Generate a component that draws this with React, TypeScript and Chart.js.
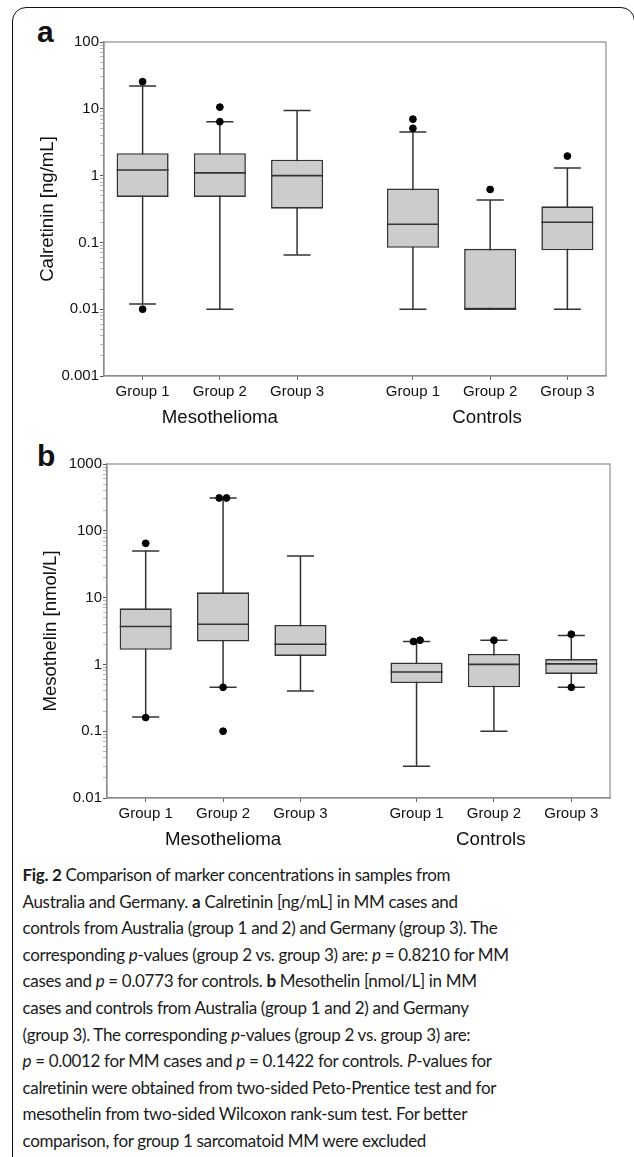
import React, { useEffect, useRef } from 'react';
import { Chart, registerables } from 'chart.js';

Chart.register(...registerables);

// ---------- data ----------
const groupLabels = ['Group 1', 'Group 2', 'Group 3', 'Group 1', 'Group 2', 'Group 3'];
const sectionLabels = ['Mesothelioma', 'Controls'];

// Panel a: Calretinin [ng/mL]
const calMin = [0.012, 0.01, 0.065, 0.01, 0.01, 0.01];
const calQ1 = [0.48, 0.48, 0.32, 0.083, 0.01, 0.076];
const calMedian = [1.21, 1.1, 1.0, 0.187, 0.01, 0.2];
const calQ3 = [2.16, 2.16, 1.73, 0.64, 0.08, 0.347];
const calMax = [21.9, 6.4, 9.4, 4.5, 0.43, 1.3];
const calOutliers = [[25.5, 0.01], [10.6, 6.4], [], [7.0, 5.1], [0.62], [1.96]];
const calJitter = [[0, 0], [0, 0], [], [0, 0], [0], [0]];
const calTickLabels = ['0.001', '0.01', '0.1', '1', '10', '100'];

// Panel b: Mesothelin [nmol/L]
const mesMin = [0.163, 0.454, 0.4, 0.03, 0.1, 0.454];
const mesQ1 = [1.65, 2.2, 1.34, 0.526, 0.454, 0.72];
const mesMedian = [3.7, 4.0, 2.0, 0.77, 1.0, 1.02];
const mesQ3 = [6.9, 12, 3.9, 1.07, 1.43, 1.2];
const mesMax = [50, 310, 41.8, 2.2, 2.3, 2.7];
const mesOutliers = [[65, 0.16], [310, 310, 0.454, 0.1], [], [2.2, 2.3], [2.3], [2.83, 0.454]];
const mesJitter = [[0, 0], [-0.05, 0.045, 0, 0], [], [-0.04, 0.045], [0], [0, 0]];
const mesTickLabels = ['0.01', '0.1', '1', '10', '100', '1000'];

// ---------- helpers ----------
const BOX_HALF = 0.337;
const CAP_HALF = 0.175;
const FONT = "'Liberation Sans', Arial, sans-serif";

function slotX(i: number) {
  return i + 1 + (i >= 3 ? 0.5 : 0);
}

interface PanelSpec {
  min: number[];
  q1: number[];
  med: number[];
  q3: number[];
  max: number[];
  outliers: number[][];
  jitter: number[][];
  tickLabels: string[];
  title: string;
  yWidth: number;
  titlePad: number;
  padRight: number;
  x1Height: number;
  x2Height: number;
}

const framePlugin = {
  id: 'frame',
  beforeDatasetsDraw(chart: any) {
    const { ctx, chartArea } = chart;
    ctx.save();
    ctx.strokeStyle = '#8c8c8c';
    ctx.lineWidth = 1.2;
    ctx.strokeRect(chartArea.left, chartArea.top, chartArea.right - chartArea.left, chartArea.bottom - chartArea.top);
    ctx.restore();
  },
};

function buildConfig(p: PanelSpec): any {
  const n = p.q1.length;
  const boxes: any[] = [];
  const whiskers: any[] = [];
  const caps: any[] = [];
  const medians: any[] = [];
  const points: any[] = [];
  for (let i = 0; i < n; i++) {
    const x = slotX(i);
    boxes.push({ x, y: [p.q1[i], p.q3[i]] });
    whiskers.push({ x, y: p.min[i] }, { x, y: p.max[i] }, { x, y: null });
    caps.push({ x: x - CAP_HALF, y: p.min[i] }, { x: x + CAP_HALF, y: p.min[i] }, { x, y: null });
    caps.push({ x: x - CAP_HALF, y: p.max[i] }, { x: x + CAP_HALF, y: p.max[i] }, { x, y: null });
    medians.push({ x: x - BOX_HALF, y: p.med[i] }, { x: x + BOX_HALF, y: p.med[i] }, { x, y: null });
    p.outliers[i].forEach((v, k) => points.push({ x: x + (p.jitter[i][k] || 0), y: v }));
  }
  const decades = p.tickLabels.map((t) => parseFloat(t));
  const yMin = decades[0];
  const yMax = decades[decades.length - 1];
  const slots = groupLabels.map((_, i) => slotX(i));
  const sectionCenters = [slotX(1), slotX(4) - 0.04];

  return {
    type: 'scatter',
    data: {
      datasets: [
        {
          type: 'scatter',
          data: points,
          backgroundColor: '#000',
          borderColor: '#000',
          pointRadius: 3.4,
          pointHoverRadius: 3.4,
          order: 0,
        },
        {
          type: 'line',
          data: medians,
          borderColor: '#333',
          borderWidth: 1.6,
          pointRadius: 0,
          spanGaps: false,
          order: 1,
        },
        {
          type: 'line',
          data: caps,
          borderColor: '#333',
          borderWidth: 1.5,
          pointRadius: 0,
          spanGaps: false,
          order: 1,
        },
        {
          type: 'bar',
          data: boxes,
          backgroundColor: '#cccccc',
          borderColor: '#333',
          borderWidth: 1.6,
          borderSkipped: false,
          categoryPercentage: 1,
          barPercentage: 0.674,
          order: 2,
        },
        {
          type: 'line',
          data: whiskers,
          borderColor: '#333',
          borderWidth: 1.5,
          pointRadius: 0,
          spanGaps: false,
          order: 3,
        },
      ],
    },
    options: {
      responsive: false,
      animation: false,
      events: [],
      layout: { padding: { top: 12, right: p.padRight, left: 0, bottom: 0 } },
      plugins: { legend: { display: false }, tooltip: { enabled: false } },
      scales: {
        x: {
          type: 'linear',
          position: 'bottom',
          min: 0.5,
          max: 7,
          bounds: 'data',
          offset: false,
          afterBuildTicks: (scale: any) => {
            scale.ticks = slots.map((v) => ({ value: v }));
          },
          afterFit: (scale: any) => {
            scale.height = p.x1Height;
          },
          grid: { display: true, drawOnChartArea: false, drawTicks: true, tickLength: 4, color: '#666', offset: false },
          border: { display: true, color: '#8c8c8c', width: 1.2 },
          ticks: {
            autoSkip: false,
            maxRotation: 0,
            padding: 3,
            color: '#111',
            font: { family: FONT, size: 15 },
            callback: (_v: any, idx: number) => groupLabels[idx],
          },
        },
        x2: {
          type: 'linear',
          position: 'bottom',
          min: 0.5,
          max: 7,
          bounds: 'data',
          offset: false,
          afterBuildTicks: (scale: any) => {
            scale.ticks = sectionCenters.map((v) => ({ value: v }));
          },
          afterFit: (scale: any) => {
            scale.height = p.x2Height;
          },
          grid: { display: false, drawTicks: false },
          border: { display: false },
          ticks: {
            autoSkip: false,
            maxRotation: 0,
            padding: 3,
            color: '#111',
            font: { family: FONT, size: 18.7 },
            callback: (_v: any, idx: number) => sectionLabels[idx],
          },
        },
        y: {
          type: 'logarithmic',
          position: 'left',
          min: yMin,
          max: yMax,
          afterBuildTicks: (scale: any) => {
            const t: any[] = [];
            for (let d = 0; d < decades.length; d++) {
              const base = decades[d];
              t.push({ value: base, major: true, label: p.tickLabels[d] });
              if (d < decades.length - 1) {
                for (let m = 2; m <= 9; m++) t.push({ value: base * m, major: false });
              }
            }
            scale.ticks = t;
          },
          afterFit: (scale: any) => {
            scale.width = p.yWidth;
          },
          grid: {
            display: true,
            drawOnChartArea: false,
            drawTicks: true,
            tickLength: 4,
            color: (ctx: any) => (ctx.tick && ctx.tick.major ? '#555' : '#b5b5b5'),
          },
          border: { display: true, color: '#8c8c8c', width: 1.2 },
          ticks: {
            autoSkip: false,
            padding: 1,
            color: '#111',
            font: { family: FONT, size: 15 },
            callback: (_v: any, idx: number, ticks: any[]) => (ticks[idx] && ticks[idx].label) || '',
          },
          title: {
            display: true,
            text: p.title,
            color: '#111',
            font: { family: FONT, size: 18.6 },
            padding: { top: p.titlePad, bottom: 0 },
          },
        },
      },
    },
    plugins: [framePlugin],
  };
}

function BoxChart(props: { spec: PanelSpec; width: number; height: number; left: number; top: number }) {
  const ref = useRef<HTMLCanvasElement | null>(null);
  useEffect(() => {
    if (!ref.current) return;
    const chart = new Chart(ref.current, buildConfig(props.spec));
    return () => chart.destroy();
  }, []);
  return (
    <canvas
      ref={ref}
      width={props.width}
      height={props.height}
      style={{ position: 'absolute', left: props.left, top: props.top, width: props.width, height: props.height }}
    />
  );
}

const specA: PanelSpec = {
  min: calMin,
  q1: calQ1,
  med: calMedian,
  q3: calQ3,
  max: calMax,
  outliers: calOutliers,
  jitter: calJitter,
  tickLabels: calTickLabels,
  title: 'Calretinin [ng/mL]',
  yWidth: 90,
  titlePad: 23,
  padRight: 16,
  x1Height: 28,
  x2Height: 31,
};

const specB: PanelSpec = {
  min: mesMin,
  q1: mesQ1,
  med: mesMedian,
  q3: mesQ3,
  max: mesMax,
  outliers: mesOutliers,
  jitter: mesJitter,
  tickLabels: mesTickLabels,
  title: 'Mesothelin [nmol/L]',
  yWidth: 93,
  titlePad: 26,
  padRight: 14,
  x1Height: 28,
  x2Height: 31,
};

const B = (s: string) => <b>{s}</b>;
const I = (s: string) => <i>{s}</i>;

const captionLines: React.ReactNode[][] = [
  [B('Fig. 2'), ' Comparison of marker concentrations in samples from'],
  ['Australia and Germany. ', B('a'), ' Calretinin [ng/mL] in MM cases and'],
  ['controls from Australia (group 1 and 2) and Germany (group 3). The'],
  ['corresponding ', I('p'), '-values (group 2 vs. group 3) are: ', I('p'), ' = 0.8210 for MM'],
  ['cases and ', I('p'), ' = 0.0773 for controls. ', B('b'), ' Mesothelin [nmol/L] in MM'],
  ['cases and controls from Australia (group 1 and 2) and Germany'],
  ['(group 3). The corresponding ', I('p'), '-values (group 2 vs. group 3) are:'],
  [I('p'), ' = 0.0012 for MM cases and ', I('p'), ' = 0.1422 for controls. ', I('P'), '-values for'],
  ['calretinin were obtained from two-sided Peto-Prentice test and for'],
  ['mesothelin from two-sided Wilcoxon rank-sum test. For better'],
  ['comparison, for group 1 sarcomatoid MM were excluded'],
];

export default function App() {
  return (
    <div
      style={{
        position: 'absolute',
        left: 0,
        top: 0,
        width: 634,
        height: 1157,
        overflow: 'hidden',
        background: '#fff',
      }}
    >
      <div
        style={{
          position: 'absolute',
          left: 12,
          top: 7,
          width: 623,
          height: 1200,
          boxSizing: 'border-box',
          border: '1.8px solid #111',
          borderRadius: 14,
        }}
      />
      <div style={{ position: 'absolute', left: 37, top: 17, fontFamily: FONT, fontWeight: 'bold', fontSize: 30, lineHeight: '30px', color: '#111' }}>a</div>
      <div style={{ position: 'absolute', left: 37, top: 441, fontFamily: FONT, fontWeight: 'bold', fontSize: 30, lineHeight: '30px', color: '#111' }}>b</div>
      <BoxChart spec={specA} left={14} top={30} width={608} height={405} />
      <BoxChart spec={specB} left={14} top={452} width={610} height={405} />
      <div
        style={{
          position: 'absolute',
          left: 22.5,
          top: 862,
          fontFamily: "Lato, 'Open Sans', sans-serif",
          fontSize: 17,
          letterSpacing: '-0.33px',
          lineHeight: '26.6px',
          color: '#1a1a1a',
          whiteSpace: 'nowrap',
        }}
      >
        {captionLines.map((line, i) => (
          <div key={i}>
            {line.map((seg, k) => (
              <React.Fragment key={k}>{seg}</React.Fragment>
            ))}
          </div>
        ))}
      </div>
    </div>
  );
}
